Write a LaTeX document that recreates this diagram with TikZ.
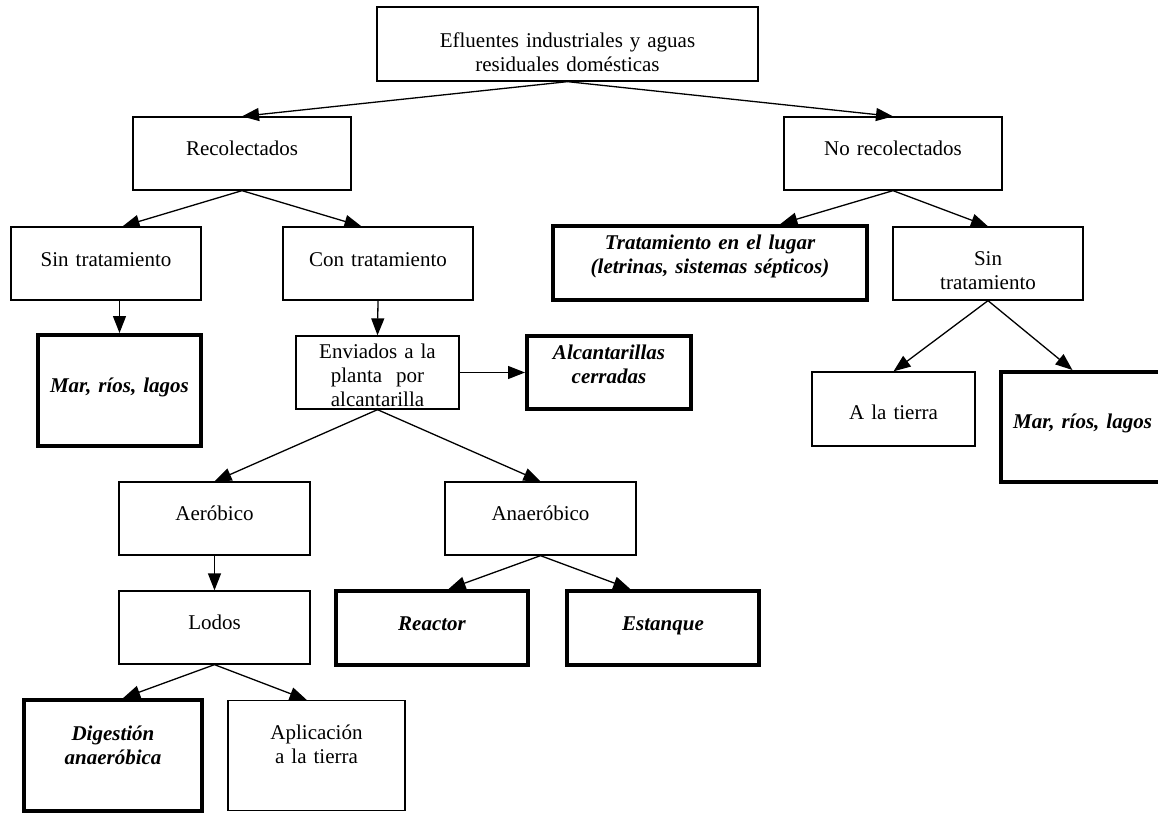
\documentclass[tikz,border=0pt]{standalone}
\usepackage{fontspec}
\setmainfont{Liberation Serif}
\usetikzlibrary{arrows.meta}

\begin{document}
\begin{tikzpicture}[x=1pt, y=-1pt,
  every node/.style={draw, rectangle, inner sep=0pt, align=center, line width=1.3pt, font=\fontsize{21}{24}\selectfont},
  heavy/.style={line width=4pt, font=\fontsize{21}{24}\selectfont\bfseries\itshape},
  dims/.style n args={3}{text width=#1pt, text height=#2pt, text depth=#3pt},
  link/.style={-{Triangle[length=17pt, width=13pt]}, line width=1.3pt}]
			\useasboundingbox (0,0) rectangle (1158,814);
			\clip (0,0) rectangle (1158,814);
			\node[dims={381}{40}{34}] (E) at (567.5,44) {Efluentes industriales y aguas\\residuales domésticas};
			\node[dims={218}{38}{35}] (R) at (242,153.5) {Recolectados};
			\node[dims={218}{38}{35}] (NR) at (893,153.5) {No recolectados};
			\node[dims={190}{39}{34}] (ST) at (106,263.5) {Sin tratamiento};
			\node[dims={190}{39}{34}] (CT) at (378,263.5) {Con tratamiento};
			\node[heavy, dims={314}{23}{51}] (TL) at (710,263) {Tratamiento en el lugar\\(letrinas, sistemas sépticos)};
			\node[dims={190}{38}{35}] (ST2) at (988,263.5) {Sin\\tratamiento};
			\node[heavy, dims={163}{57}{54}] (M) at (119.5,390.5) {Mar, ríos, lagos};
			\node[dims={163}{22}{51}] (EP) at (377.5,372.5) {Enviados a la\\planta\ \ por\\alcantarilla};
			\node[heavy, dims={164}{23}{50}] (AC) at (609,372.5) {Alcantarillas\\cerradas};
			\node[dims={163}{47}{27}] (T) at (893.5,409) {A la tierra};
			\node[heavy, dims={163}{56}{54}] (M2) at (1082.5,427) {Mar, ríos, lagos};
			\node[dims={191}{38}{35}] (AE) at (214.5,518.5) {Aeróbico};
			\node[dims={191}{38}{35}] (AN) at (540.5,518.5) {Anaeróbico};
			\node[dims={191}{38}{35}] (L) at (214.5,627.5) {Lodos};
			\node[heavy, dims={192}{39}{35}] (RE) at (432,628) {Reactor};
			\node[heavy, dims={192}{39}{35}] (ES) at (663,628) {Estanque};
			\node[heavy, dims={178}{40}{71}] (D) at (113,755.5) {Digestión\\anaeróbica};
			\node[dims={177}{39}{71}] (AP) at (316.5,755.5) {Aplicación\\a la tierra};
			\draw[link](E.south) -- (R.north);
			\draw[link](E.south) -- (NR.north);
			\draw[link](R.south) -- (ST.66);
			\draw[link](R.south) -- (CT.114);
			\draw[link](M.north |- ST.south) -- (M.north);
			\draw[link](CT.south) -- (EP.north);
			\draw[link](EP.east) -- (AC.west);
			\draw[link](NR.south) -- (TL.29);
			\draw[link](NR.south) -- (ST2.north);
			\draw[link](ST2.south) -- (T.north);
			\draw[link](ST2.south) -- (M2.100);
			\draw[link](EP.south) -- (AE.north);
			\draw[link](EP.south) -- (AN.north);
			\draw[link](AE.south) -- (L.north);
			\draw[link](AN.south) -- (RE.67);
			\draw[link](AN.south) -- (ES.130);
			\draw[link](L.south) -- (D.80);
			\draw[link](L.south) -- (AP.100);
		\end{tikzpicture}
\end{document}
